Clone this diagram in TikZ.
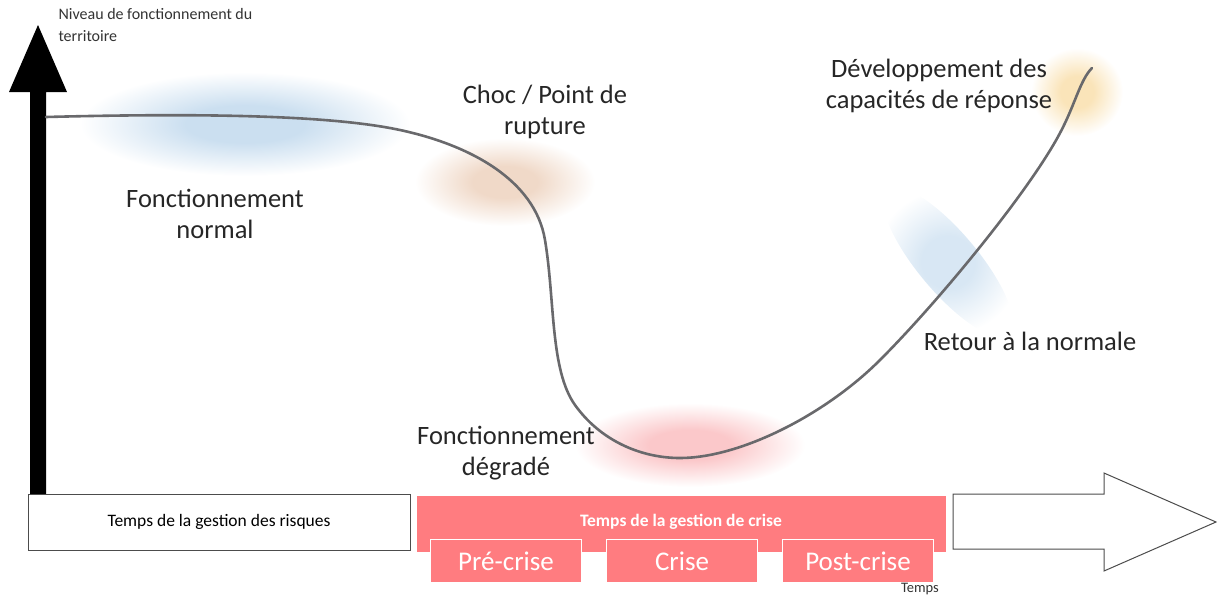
\documentclass[tikz,border=0pt]{standalone}
\usepackage{fontspec}
\setmainfont{Carlito}
\definecolor{crisepink}{RGB}{255,124,128}
\definecolor{curvegray}{RGB}{105,105,108}
\definecolor{glowblue}{RGB}{203,223,240}
\definecolor{glowpeach}{RGB}{240,217,200}
\definecolor{glowred}{RGB}{251,200,202}
\definecolor{glowyellow}{RGB}{250,228,185}
\colorlet{glowcol}{glowblue}
\pgfdeclareradialshading[glowcol]{softglow}{\pgfpoint{0bp}{0bp}}{%
	color(0bp)=(glowcol); color(9bp)=(glowcol); color(25bp)=(white); color(50bp)=(white)}

\begin{document}
\begin{tikzpicture}[x=1pt, y=-1pt,
	big/.style={align=center, font=\fontsize{26.5}{31}\selectfont, text=black!85},
	small/.style={font=\fontsize{16}{22}\selectfont, text=black!80},
	phase/.style={fill=crisepink, draw=white, line width=1.5pt, minimum width=151pt, minimum height=43pt, text=white, font=\fontsize{27}{30}\selectfont, inner sep=0pt},
	glow/.style={/utils/exec={\colorlet{glowcol}{#1}}, shading=softglow}]
	\useasboundingbox (0,0) rectangle (1217,595);

	% glows
	\shade[glow=glowblue] (245,124) ellipse (165 and 52);
	\shade[glow=glowpeach] (505,182) ellipse (90 and 44);
	\shade[glow=glowred] (690,445) ellipse (115 and 42);
	\shade[glow=glowblue!75, rotate around={-50:(948,262)}] (948,262) ellipse (95 and 30);
	\shade[glow=glowyellow] (1077,92) ellipse (46 and 44);

	% axes
	\fill[black] (30,497) -- (30,92) -- (9,92) -- (38,25) -- (67,92) -- (46,92) -- (46,497) -- cycle;
	\draw[black!70, line width=1pt, fill=white] (953,494) -- (1104,494) -- (1104,473) -- (1216,522) -- (1104,571) -- (1104,549) -- (953,549) -- cycle;

	% curve
	\draw[curvegray, line width=2.6pt, line cap=round]
		(46,117) .. controls (200,113) and (330,115) .. (400,130)
		.. controls (470,145) and (535,180) .. (545,240)
		.. controls (555,300) and (550,370) .. (575,405)
		.. controls (600,440) and (640,458) .. (680,458)
		.. controls (740,458) and (825,415) .. (880,360)
		.. controls (940,300) and (1030,190) .. (1060,133)
		.. controls (1075,105) and (1080,80) .. (1092,68);

	% labels
	\node[small, anchor=north west, align=left] (axe) at (55,5) {Niveau de fonctionnement du\\territoire};
	\node[big] (normal) at (215,214) {Fonctionnement\\normal};
	\node[big] (choc) at (545,112) {Choc / Point de\\rupture};
	\node[big] (degrade) at (506,453) {Fonctionnement\\dégradé};
	\node[big] (retour) at (1030,341) {Retour à la normale};
	\node[big] (capa) at (939,86) {Développement des\\capacités de réponse};

	% time bars
	\node[draw=black!70, line width=1pt, fill=white, minimum width=382pt, minimum height=56pt, inner sep=0pt, font=\fontsize{17.5}{20}\selectfont] (risques) at (219,522) {Temps de la gestion des risques};
	\fill[crisepink] (417,496) rectangle (946,552);
	\node[text=white, font=\fontsize{17.5}{20}\selectfont\bfseries] (crise) at (681,522) {Temps de la gestion de crise};
	\node[phase] (pre) at (506,561) {Pré-crise};
	\node[phase] (pendant) at (682,561) {Crise};
	\node[phase] (post) at (858,561) {Post-crise};
	\node[font=\fontsize{14.5}{16}\selectfont, text=black!80] (temps) at (920,589) {Temps};
\end{tikzpicture}
\end{document}
